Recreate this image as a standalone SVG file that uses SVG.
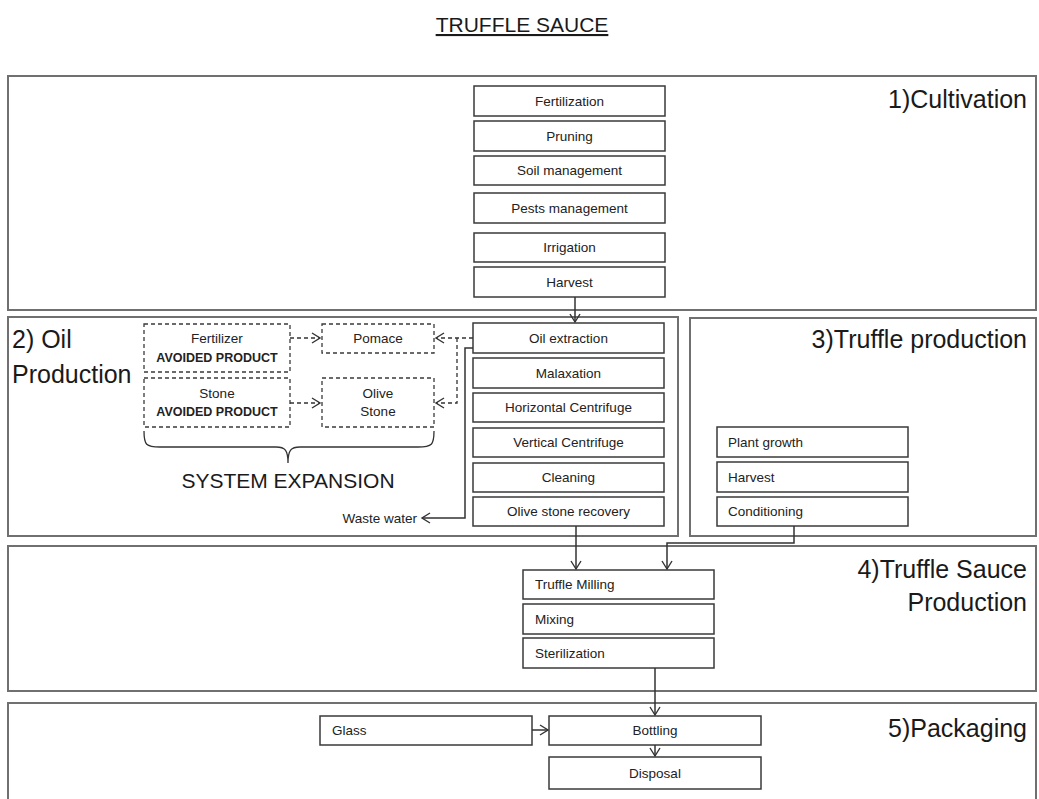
<svg xmlns="http://www.w3.org/2000/svg" width="1039" height="799" viewBox="0 0 1039 799">
  <style>
    .stage { fill: #ffffff; stroke: #707070; stroke-width: 2; }
    .step { fill: #ffffff; stroke: #3a3a3a; stroke-width: 1.5; }
    .alt { fill: #ffffff; stroke: #3a3a3a; stroke-width: 1.3; stroke-dasharray: 4 3; }
    .lbl { font-family: "Liberation Sans", Arial, sans-serif; font-size: 13.5px; fill: #222222; }
    .mid { text-anchor: middle; }
    .bold { font-weight: bold; font-size: 12.5px; }
    .stageLbl { font-family: "Liberation Sans", Arial, sans-serif; font-size: 25px; fill: #1a1a1a; }
    .end { text-anchor: end; }
    .flow { fill: none; stroke: #333333; stroke-width: 1.5; }
    .flowDash { fill: none; stroke: #333333; stroke-width: 1.3; stroke-dasharray: 4 3; }
  </style>
  <defs>
    <marker id="arrow" markerUnits="userSpaceOnUse" markerWidth="12" markerHeight="14" refX="9" refY="6" orient="auto">
      <path d="M1,1 L9,6 L1,11" fill="none" stroke="#333333" stroke-width="1.4"/>
    </marker>
  </defs>

  <rect width="1039" height="799" fill="#ffffff"/>

  <!-- title -->
  <text x="522" y="32" font-family="'Liberation Sans', Arial, sans-serif" font-size="21" fill="#1a1a1a" text-anchor="middle" text-decoration="underline">TRUFFLE SAUCE</text>

  <!-- stage frames -->
  <g id="stage-cultivation">
    <rect class="stage" x="8" y="76" width="1028" height="234"/>
    <text class="stageLbl end" x="1027" y="108">1)Cultivation</text>
  </g>
  <g id="stage-oil">
    <rect class="stage" x="8" y="317" width="670" height="219"/>
    <text class="stageLbl" x="12" y="348">2) Oil</text>
    <text class="stageLbl" x="12" y="383">Production</text>
  </g>
  <g id="stage-truffle">
    <rect class="stage" x="690" y="318" width="346" height="218"/>
    <text class="stageLbl end" x="1027" y="348">3)Truffle production</text>
  </g>
  <g id="stage-sauce">
    <rect class="stage" x="8" y="546" width="1028" height="145"/>
    <text class="stageLbl end" x="1027" y="578">4)Truffle Sauce</text>
    <text class="stageLbl end" x="1027" y="611">Production</text>
  </g>
  <g id="stage-packaging">
    <rect class="stage" x="8" y="703" width="1028" height="110"/>
    <text class="stageLbl end" x="1027" y="737">5)Packaging</text>
  </g>

  <!-- 1) cultivation steps -->
  <g id="fertilization"><rect class="step" x="474" y="86" width="191" height="30"/><text class="lbl mid" x="569.5" y="106">Fertilization</text></g>
  <g id="pruning"><rect class="step" x="474" y="121" width="191" height="30"/><text class="lbl mid" x="569.5" y="141">Pruning</text></g>
  <g id="soil-management"><rect class="step" x="474" y="156" width="191" height="29"/><text class="lbl mid" x="569.5" y="175">Soil management</text></g>
  <g id="pests-management"><rect class="step" x="474" y="193" width="191" height="30"/><text class="lbl mid" x="569.5" y="213">Pests management</text></g>
  <g id="irrigation"><rect class="step" x="474" y="233" width="191" height="29"/><text class="lbl mid" x="569.5" y="252">Irrigation</text></g>
  <g id="harvest-olive"><rect class="step" x="474" y="267" width="191" height="30"/><text class="lbl mid" x="569.5" y="287">Harvest</text></g>

  <!-- 2) oil production steps -->
  <g id="oil-extraction"><rect class="step" x="473" y="323" width="191" height="30"/><text class="lbl mid" x="568.5" y="343">Oil extraction</text></g>
  <g id="malaxation"><rect class="step" x="473" y="358" width="191" height="30"/><text class="lbl mid" x="568.5" y="378">Malaxation</text></g>
  <g id="horizontal-centrifuge"><rect class="step" x="473" y="393" width="191" height="29"/><text class="lbl mid" x="568.5" y="412">Horizontal Centrifuge</text></g>
  <g id="vertical-centrifuge"><rect class="step" x="473" y="428" width="191" height="29"/><text class="lbl mid" x="568.5" y="447">Vertical Centrifuge</text></g>
  <g id="cleaning"><rect class="step" x="473" y="463" width="191" height="29"/><text class="lbl mid" x="568.5" y="482">Cleaning</text></g>
  <g id="olive-stone-recovery"><rect class="step" x="473" y="497" width="191" height="29"/><text class="lbl mid" x="568.5" y="516">Olive stone recovery</text></g>

  <!-- system expansion -->
  <g id="fertilizer-avoided">
    <rect class="alt" x="144" y="324" width="146" height="48"/>
    <text class="lbl mid" x="217" y="343">Fertilizer</text>
    <text class="lbl mid bold" x="217" y="362">AVOIDED PRODUCT</text>
  </g>
  <g id="stone-avoided">
    <rect class="alt" x="144" y="378" width="146" height="49"/>
    <text class="lbl mid" x="217" y="398">Stone</text>
    <text class="lbl mid bold" x="217" y="416">AVOIDED PRODUCT</text>
  </g>
  <g id="pomace">
    <rect class="alt" x="322" y="324" width="112" height="29"/>
    <text class="lbl mid" x="378" y="343">Pomace</text>
  </g>
  <g id="olive-stone">
    <rect class="alt" x="322" y="378" width="112" height="49"/>
    <text class="lbl mid" x="378" y="398">Olive</text>
    <text class="lbl mid" x="378" y="416">Stone</text>
  </g>
  <g id="system-expansion">
    <path d="M144,431 C144,445 146,447 160,447 H276 C285,447 288,450 288,463 C288,450 291,447 300,447 H418 C432,447 434,445 434,431" fill="none" stroke="#333333" stroke-width="1.3"/>
    <text x="288" y="488" font-family="'Liberation Sans', Arial, sans-serif" font-size="21" fill="#1a1a1a" text-anchor="middle">SYSTEM EXPANSION</text>
  </g>
  <g id="waste-water">
    <text class="lbl end" x="417" y="523">Waste water</text>
  </g>

  <!-- 3) truffle production steps -->
  <g id="plant-growth"><rect class="step" x="717" y="427" width="191" height="30"/><text class="lbl" x="728" y="447">Plant growth</text></g>
  <g id="harvest-truffle"><rect class="step" x="717" y="462" width="191" height="30"/><text class="lbl" x="728" y="482">Harvest</text></g>
  <g id="conditioning"><rect class="step" x="717" y="497" width="191" height="29"/><text class="lbl" x="728" y="516">Conditioning</text></g>

  <!-- 4) truffle sauce production steps -->
  <g id="truffle-milling"><rect class="step" x="523" y="570" width="191" height="29"/><text class="lbl" x="535" y="589">Truffle Milling</text></g>
  <g id="mixing"><rect class="step" x="523" y="604" width="191" height="30"/><text class="lbl" x="535" y="624">Mixing</text></g>
  <g id="sterilization"><rect class="step" x="523" y="638" width="191" height="30"/><text class="lbl" x="535" y="658">Sterilization</text></g>

  <!-- 5) packaging steps -->
  <g id="glass"><rect class="step" x="320" y="716" width="212" height="29"/><text class="lbl" x="332" y="735">Glass</text></g>
  <g id="bottling"><rect class="step" x="549" y="716" width="212" height="29"/><text class="lbl mid" x="655" y="735">Bottling</text></g>
  <g id="disposal"><rect class="step" x="549" y="757" width="212" height="32"/><text class="lbl mid" x="655" y="778">Disposal</text></g>

  <!-- connectors -->
  <g id="connectors">
    <path class="flow" d="M575,297 V322" marker-end="url(#arrow)"/>
    <path class="flow" d="M473,348 H465 V518 H422" marker-end="url(#arrow)"/>
    <path class="flowDash" d="M473,338 H436" marker-end="url(#arrow)"/>
    <path class="flowDash" d="M457,338 V403 H436" marker-end="url(#arrow)"/>
    <path class="flowDash" d="M290,338 H320" marker-end="url(#arrow)"/>
    <path class="flowDash" d="M290,403 H320" marker-end="url(#arrow)"/>
    <path class="flow" d="M576,526 V569" marker-end="url(#arrow)"/>
    <path class="flow" d="M794,526 V543 H667 V569" marker-end="url(#arrow)"/>
    <path class="flow" d="M655,668 V715" marker-end="url(#arrow)"/>
    <path class="flow" d="M532,730 H548" marker-end="url(#arrow)"/>
    <path class="flow" d="M655,745 V756" marker-end="url(#arrow)"/>
  </g>
</svg>
